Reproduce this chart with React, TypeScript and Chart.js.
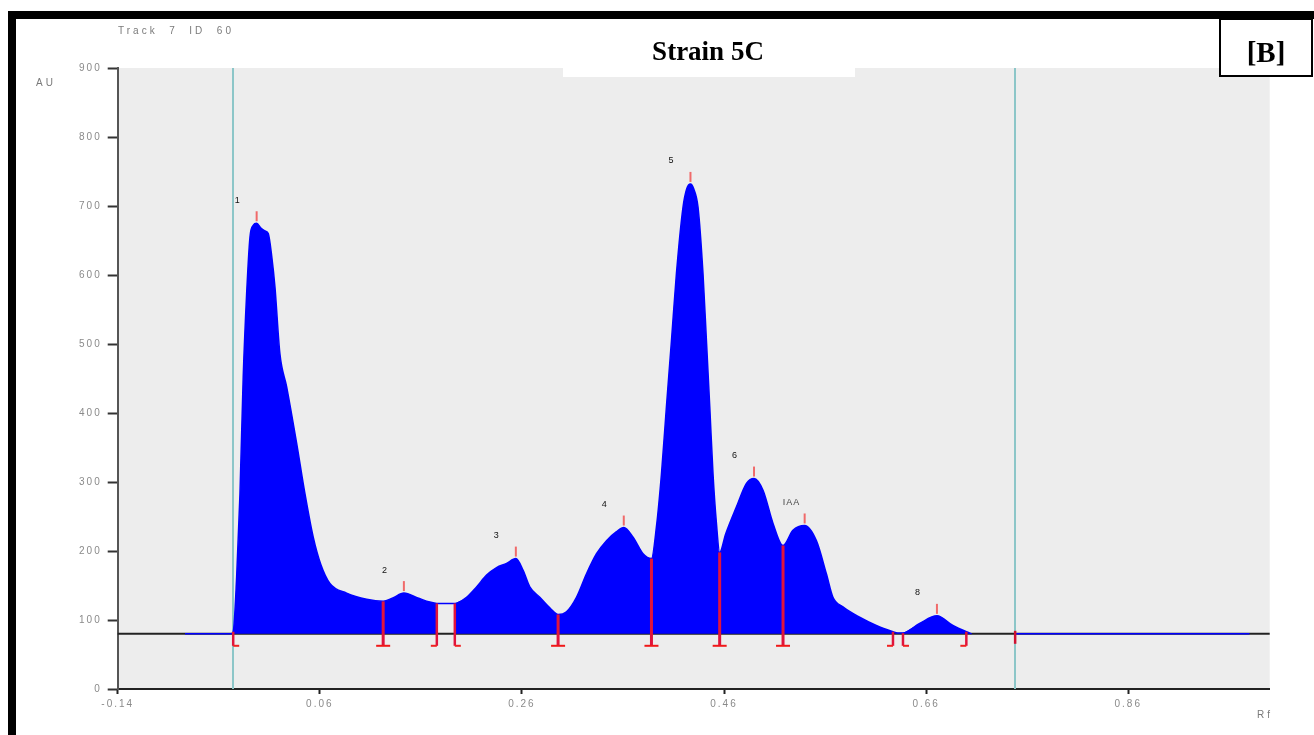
import { useEffect, useRef } from 'react';
import { Chart, registerables } from 'chart.js';

Chart.register(...registerables);

const trackLabel = 'Track  7  ID  60';
const titleText = 'Strain 5C';
const panelTag = '[B]';
const yAxisLabel = 'AU';
const xAxisLabel = 'Rf';

const xTickValues = [-0.14, 0.06, 0.26, 0.46, 0.66, 0.86];
const baselineAU = 80;

// densitogram trace (Rf, AU)
const rfValues = [
  -0.0734, -0.0279, -0.0257, -0.0223, -0.019, -0.0158, -0.0124, -0.0091, -0.0059, -0.0025,
  0.0017, 0.0057, 0.009, 0.0126, 0.0156, 0.0205, 0.0272, 0.0371, 0.0453, 0.0535,
  0.0611, 0.07, 0.0865, 0.1063, 0.1227, 0.1323, 0.1432, 0.157, 0.1689, 0.1758,
  0.1847, 0.1936, 0.2052, 0.2151, 0.225, 0.2349, 0.2448, 0.254, 0.2612, 0.2678,
  0.2777, 0.2887, 0.2958, 0.3041, 0.314, 0.3239, 0.3338, 0.3437, 0.3536, 0.3608,
  0.37, 0.3799, 0.3882, 0.3931, 0.3981, 0.403, 0.408, 0.4129, 0.4194, 0.4231,
  0.4268, 0.43, 0.4343, 0.4392, 0.4426, 0.4459, 0.4491, 0.4525, 0.4557, 0.4617,
  0.4723, 0.4822, 0.4897, 0.4986, 0.5085, 0.5184, 0.5282, 0.5398, 0.5514, 0.5613,
  0.5678, 0.5777, 0.5942, 0.6107, 0.6272, 0.6318, 0.6371, 0.6536, 0.6707, 0.6865,
  0.6998, 0.705, 0.72, 0.7481, 0.98,
];
const auValues = [
  80, 80, 83, 162, 283, 452, 573, 655, 672, 675,
  668, 664, 660, 625, 583, 486, 438, 356, 283, 220,
  180, 153, 139, 130, 127, 132, 139, 132, 126, 124,
  124, 124, 133, 148, 165, 176, 182, 189, 172, 148,
  133, 116, 108, 112, 133, 167, 196, 215, 228, 234,
  220, 196, 189, 235, 312, 409, 505, 602, 698, 725,
  732, 725, 698, 602, 505, 409, 312, 240, 198, 225,
  264, 298, 305, 288, 240, 208, 230, 237, 215, 167,
  133, 119, 104, 92, 83, 81, 81, 95, 106, 92,
  83, 80, null, 80, 80,
];

// stretches of the trace that are not integrated (no fill)
const unfilledStart = [0.176, 0.628];
const unfilledEnd = [0.193, 0.636];

// application window (cyan lines)
const windowRf = [-0.026, 0.748];

// peaks
const peakNames = ['1', '2', '3', '4', '5', '6', 'IAA', '8'];
const peakRf = [-0.0025, 0.1432, 0.254, 0.3608, 0.4268, 0.4897, 0.5398, 0.6707];
const peakAU = [675, 139, 189, 234, 732, 305, 237, 106];

// integration boundaries
const separatorRf = [0.1227, 0.2958, 0.3882, 0.4557, 0.5184];
const bracketOpenRf = [-0.0257, 0.1936, 0.6371];
const bracketCloseRf = [0.1758, 0.6272, 0.6998];
const endMarkRf = [0.7481];

function auAt(rf: number): number {
  for (let i = 0; i < rfValues.length - 1; i++) {
    const a = auValues[i];
    const b = auValues[i + 1];
    if (a == null || b == null) continue;
    if (rfValues[i] <= rf && rf <= rfValues[i + 1]) {
      const t = (rf - rfValues[i]) / (rfValues[i + 1] - rfValues[i] || 1);
      return a + (b - a) * t;
    }
  }
  return baselineAU;
}

function isUnfilled(rf: number): boolean {
  for (let i = 0; i < unfilledStart.length; i++) {
    if (rf > unfilledStart[i] && rf < unfilledEnd[i]) return true;
  }
  return false;
}

const decorPlugin = {
  id: 'decor',
  beforeDraw(chart: any) {
    const { ctx, chartArea } = chart;
    ctx.save();
    ctx.fillStyle = '#ededed';
    ctx.fillRect(chartArea.left, chartArea.top, chartArea.right - chartArea.left, chartArea.bottom - chartArea.top);
    ctx.restore();
    ctx.letterSpacing = '2px';
  },
  beforeDatasetsDraw(chart: any) {
    const { ctx, chartArea, scales } = chart;
    const xs = scales.x;
    const ys = scales.y;
    ctx.save();
    ctx.strokeStyle = '#8cc6c8';
    ctx.lineWidth = 2;
    windowRf.forEach((rf) => {
      const x = Math.round(xs.getPixelForValue(rf));
      ctx.beginPath();
      ctx.moveTo(x, chartArea.top);
      ctx.lineTo(x, chartArea.bottom);
      ctx.stroke();
    });
    const by = ys.getPixelForValue(baselineAU);
    ctx.strokeStyle = '#222';
    ctx.lineWidth = 2;
    ctx.beginPath();
    ctx.moveTo(chartArea.left, by);
    ctx.lineTo(chartArea.right, by);
    ctx.stroke();
    ctx.restore();
  },
  afterDatasetsDraw(chart: any) {
    const { ctx, scales } = chart;
    const xs = scales.x;
    const ys = scales.y;
    const by = ys.getPixelForValue(baselineAU);
    const foot = by + 12;
    ctx.save();
    ctx.lineCap = 'butt';
    separatorRf.forEach((rf) => {
      const x = xs.getPixelForValue(rf);
      const y = ys.getPixelForValue(auAt(rf));
      ctx.strokeStyle = '#e0143c';
      ctx.lineWidth = 3;
      ctx.beginPath();
      ctx.moveTo(x, y);
      ctx.lineTo(x, foot);
      ctx.stroke();
      ctx.strokeStyle = '#f01818';
      ctx.lineWidth = 2;
      ctx.beginPath();
      ctx.moveTo(x - 7, foot);
      ctx.lineTo(x + 7, foot);
      ctx.stroke();
    });
    const bracket = (rf: number, dir: number) => {
      const x = xs.getPixelForValue(rf);
      const y = ys.getPixelForValue(auAt(rf));
      ctx.strokeStyle = '#e0143c';
      ctx.lineWidth = 2.5;
      ctx.beginPath();
      ctx.moveTo(x, Math.min(y, by));
      ctx.lineTo(x, foot);
      ctx.stroke();
      ctx.strokeStyle = '#f02020';
      ctx.lineWidth = 2;
      ctx.beginPath();
      ctx.moveTo(x, foot);
      ctx.lineTo(x + dir * 6, foot);
      ctx.stroke();
    };
    bracketOpenRf.forEach((rf) => bracket(rf, 1));
    bracketCloseRf.forEach((rf) => bracket(rf, -1));
    endMarkRf.forEach((rf) => {
      const x = xs.getPixelForValue(rf);
      ctx.strokeStyle = '#d01030';
      ctx.lineWidth = 2.5;
      ctx.beginPath();
      ctx.moveTo(x, by - 3);
      ctx.lineTo(x, by + 10);
      ctx.stroke();
    });
    ctx.letterSpacing = '1px';
    ctx.font = '9px Arial';
    ctx.textAlign = 'left';
    ctx.textBaseline = 'middle';
    peakRf.forEach((rf, i) => {
      const x = xs.getPixelForValue(rf);
      const y = ys.getPixelForValue(peakAU[i]);
      ctx.strokeStyle = '#f06a6a';
      ctx.lineWidth = 2;
      ctx.beginPath();
      ctx.moveTo(x, y - 2);
      ctx.lineTo(x, y - 12);
      ctx.stroke();
      ctx.fillStyle = peakNames[i].length > 1 ? '#444' : '#111';
      ctx.fillText(peakNames[i], x - 22, y - 23);
    });
    ctx.restore();
  },
  afterDraw(chart: any) {
    const { ctx } = chart;
    ctx.save();
    ctx.fillStyle = '#7a7a7a';
    ctx.font = '10px Arial';
    ctx.textBaseline = 'middle';
    ctx.textAlign = 'left';
    ctx.letterSpacing = '3px';
    ctx.fillText(trackLabel, 118, 31);
    ctx.fillText(yAxisLabel, 36, 83);
    ctx.fillText(xAxisLabel, 1257, 715);
    ctx.letterSpacing = '0px';
    ctx.fillStyle = '#ffffff';
    ctx.fillRect(563, 19, 292, 58);
    ctx.fillStyle = '#000';
    ctx.font = 'bold 27px "Liberation Serif", "Times New Roman", serif';
    ctx.textAlign = 'center';
    ctx.textBaseline = 'alphabetic';
    ctx.fillText(titleText, 708, 60);
    ctx.fillStyle = '#ffffff';
    ctx.fillRect(1219, 19, 93, 57);
    ctx.strokeStyle = '#000';
    ctx.lineWidth = 2;
    ctx.strokeRect(1220, 19, 92, 57);
    ctx.fillStyle = '#000';
    ctx.font = 'bold 29px "Liberation Serif", "Times New Roman", serif';
    ctx.fillText(panelTag, 1266, 62);
    ctx.fillStyle = '#000';
    ctx.fillRect(8, 11, 1306, 8);
    ctx.fillRect(8, 11, 8, 724);
    ctx.restore();
  },
};

export default function App() {
  const ref = useRef<HTMLCanvasElement>(null);
  useEffect(() => {
    document.body.style.margin = '0';
    const lineData = rfValues.map((rf, i) => ({ x: rf, y: auValues[i] }));
    const fillData = rfValues.map((rf, i) => ({ x: rf, y: isUnfilled(rf) ? null : auValues[i] }));
    const tickFont = { family: 'Arial', size: 10 };
    const chart = new Chart(ref.current as HTMLCanvasElement, {
      type: 'line',
      data: {
        datasets: [
          {
            data: lineData as any,
            borderColor: '#0000ff',
            borderWidth: 1.5,
            pointRadius: 0,
            fill: false,
            cubicInterpolationMode: 'monotone',
            spanGaps: false,
          },
          {
            data: fillData as any,
            borderColor: '#0000ff',
            borderWidth: 0,
            backgroundColor: '#0000ff',
            pointRadius: 0,
            fill: { value: baselineAU } as any,
            cubicInterpolationMode: 'monotone',
            spanGaps: false,
          },
        ],
      },
      options: {
        responsive: false,
        devicePixelRatio: 1,
        animation: false,
        layout: { padding: { left: 57.7, right: 44.3, top: 68, bottom: 0 } },
        plugins: { legend: { display: false }, tooltip: { enabled: false }, title: { display: false } },
        scales: {
          x: {
            type: 'linear',
            min: -0.14,
            max: 1.0,
            afterBuildTicks: (axis: any) => {
              axis.ticks = xTickValues.map((v) => ({ value: v }));
            },
            afterFit: (s: any) => {
              s.height = 46;
            },
            ticks: {
              color: '#8a8a8a',
              font: tickFont,
              padding: 4,
              maxRotation: 0,
              autoSkip: false,
              callback: (v: any) => Number(v).toFixed(2),
            },
            grid: { drawOnChartArea: false, drawTicks: true, tickLength: 5, tickColor: '#222', tickWidth: 2 },
            border: { color: '#222', width: 2 },
          },
          y: {
            min: 0,
            max: 900,
            afterFit: (s: any) => {
              s.width = 60;
            },
            ticks: { stepSize: 100, color: '#8a8a8a', font: tickFont, padding: 6 },
            grid: { drawOnChartArea: false, drawTicks: true, tickLength: 10, tickColor: '#333', tickWidth: 2 },
            border: { color: '#555', width: 2 },
          },
        },
      },
      plugins: [decorPlugin],
    });
    return () => chart.destroy();
  }, []);
  return (
    <div style={{ position: 'absolute', left: 0, top: 0, width: 1314, height: 735 }}>
      <canvas ref={ref} width={1314} height={735} style={{ display: 'block', width: 1314, height: 735 }} />
    </div>
  );
}
